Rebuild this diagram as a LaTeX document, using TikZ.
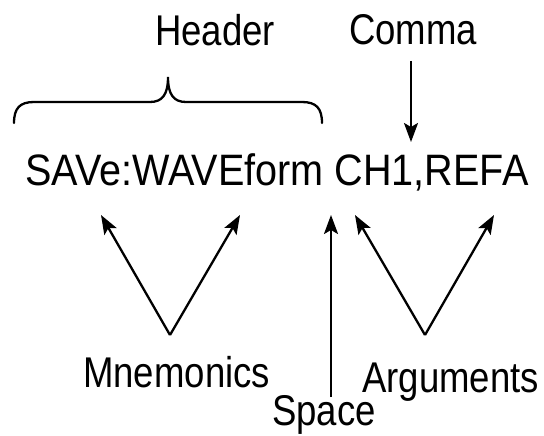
\documentclass[tikz,border=0pt]{standalone}
\usepackage{fontspec}
\setmainfont[FakeStretch=0.85]{Liberation Sans}
\newfontfamily\cmdfont[FakeStretch=0.9]{Liberation Sans}
\usetikzlibrary{arrows.meta}
\begin{document}
\begin{tikzpicture}[x=1pt,y=-1pt,
  lbl/.style={inner sep=0pt, font=\fontsize{43}{48}\selectfont, anchor=base west},
  arr/.style={line width=2.3pt, -{Stealth[length=19pt,width=14pt,inset=4pt]}},
  bracepath/.style={line width=2.3pt, line cap=round}]
\useasboundingbox (0,0) rectangle (544,436);
% texts
\node[lbl] (header) at (155,46) {Header};
\node[lbl] (comma) at (349,45) {Comma};
\node[lbl, font=\cmdfont\fontsize{44}{48}\selectfont] (cmd) at (25,185) {SAVe:WAVEform CH1,REFA};
\node[lbl] (mnem) at (83,387) {Mnemonics};
\node[lbl] (space) at (272,425) {Space};
\node[lbl] (args) at (362,392) {Arguments};
% coordinates
\coordinate (ctop) at (411,61);
\coordinate (ctip) at (411,142);
\coordinate (mv) at (170,335);
\coordinate (ml) at (101,215);
\coordinate (mr) at (240,215);
\coordinate (sb) at (331,397);
\coordinate (st) at (331,215);
\coordinate (av) at (425,335);
\coordinate (al) at (355,215);
\coordinate (ar) at (494,215);
% brace
\draw[bracepath] (14,123) .. controls (14,108) and (20,102) .. (34,102) -- (150,102)
  .. controls (162,102) and (168,95) .. (168,77)
  .. controls (168,95) and (174,102) .. (186,102) -- (302,102)
  .. controls (316,102) and (322,108) .. (322,123);
% arrows
\draw[arr] (ctop) -- (ctip);
\draw[arr] (mv) -- (ml);
\draw[arr] (mv) -- (mr);
\draw[arr] (sb) -- (st);
\draw[arr] (av) -- (al);
\draw[arr] (av) -- (ar);
\end{tikzpicture}
\end{document}
